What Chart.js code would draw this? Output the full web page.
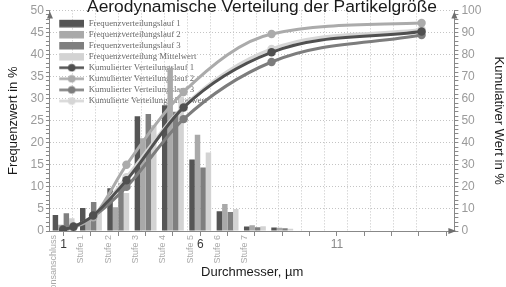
<!DOCTYPE html>
<html>
<head>
<meta charset="utf-8">
<script src="https://cdn.jsdelivr.net/npm/chart.js@4/dist/chart.umd.min.js"></script>
<style>
  html, body { margin: 0; padding: 0; background: #fff; overflow: hidden; }
  #wrap { width: 506px; height: 287px; }
</style>
</head>
<body>
<div id="wrap"><canvas id="chart"></canvas></div>
<script>
// stages (bar groups sit on the diameter axis at 1..9)
const categories = ['Induktionsanschluss', 'Stufe 1', 'Stufe 2', 'Stufe 3', 'Stufe 4', 'Stufe 5', 'Stufe 6', 'Stufe 7'];
const stagePositions = [1, 2, 3, 4, 5, 6, 7, 8, 9];

// frequency values in % (left axis)
const freqRun1 = [3.6, 5.2, 9.7, 26.0, 28.5, 16.2, 4.5, 1.0, 0.8];
const freqRun2 = [1.4, 2.2, 5.4, 21.0, 37.0, 21.8, 6.1, 1.3, 0.75];
const freqRun3 = [4.0, 6.6, 10.8, 26.5, 27.0, 14.4, 4.3, 0.85, 0.6];
const freqMean = [2.9, 4.6, 8.6, 24.0, 30.5, 17.8, 5.0, 1.05, 0.5];

// cumulative values in % (right axis) at the stage cut-off diameters
const cutoffs = [0.98, 1.36, 2.08, 3.30, 5.39, 8.61, 14.1];
const cumRun1 = [0.6, 1.9, 7.0, 23.0, 56.0, 81.0, 90.4];
const cumRun2 = [0.4, 1.6, 6.2, 30.0, 63.0, 89.3, 94.3];
const cumRun3 = [0.8, 2.1, 6.5, 20.0, 50.7, 76.6, 88.8];
const cumMean = [0.6, 1.9, 6.6, 24.4, 56.5, 82.5, 91.3];

const xTickLabels = [1, 6, 11];

const barColors = ['#555555', '#a9a9a9', '#7f7f7f', '#d3d3d3'];
const lineColors = ['#505050', '#ababab', '#7d7d7d', '#d6d6d6'];

function legendIcon(isLine, color) {
  const c = document.createElement('canvas');
  c.width = 32; c.height = 9;
  const g = c.getContext('2d');
  if (isLine) {
    g.strokeStyle = color; g.lineWidth = 2.5;
    g.beginPath(); g.moveTo(7, 4.5); g.lineTo(32, 4.5); g.stroke();
    g.fillStyle = color;
    g.beginPath(); g.arc(19.5, 4.5, 3.8, 0, Math.PI * 2); g.fill();
  } else {
    g.fillStyle = color; g.fillRect(7, 1, 25, 7.5);
  }
  return c;
}

function barSet(label, values, color) {
  return {
    type: 'bar', label, order: 1,
    data: stagePositions.map((p, i) => ({ x: p, y: values[i] })),
    backgroundColor: color, borderWidth: 0,
    categoryPercentage: 0.8, barPercentage: 1.0,
    xAxisID: 'x', yAxisID: 'y'
  };
}
function lineSet(label, values, color) {
  return {
    type: 'line', label, order: 0,
    data: cutoffs.map((d, i) => ({ x: d, y: values[i] })),
    borderColor: color, backgroundColor: color, borderWidth: 3,
    pointRadius: 4.2, pointBackgroundColor: color, pointBorderWidth: 0,
    cubicInterpolationMode: 'monotone',
    xAxisID: 'x', yAxisID: 'y2'
  };
}

const axisArrows = {
  id: 'axisArrows',
  afterDraw(chart) {
    const { ctx, chartArea: a } = chart;
    ctx.save();
    ctx.fillStyle = '#6f6f6f';
    [a.left, a.right].forEach(x => {
      ctx.beginPath();
      ctx.moveTo(x, a.top + 1); ctx.lineTo(x - 3, a.top + 8); ctx.lineTo(x + 3, a.top + 8);
      ctx.closePath(); ctx.fill();
    });
    ctx.beginPath();
    ctx.moveTo(a.right + 2, a.bottom); ctx.lineTo(a.right - 6, a.bottom - 3); ctx.lineTo(a.right - 6, a.bottom + 3);
    ctx.closePath(); ctx.fill();
    ctx.restore();
  }
};

const axisTitleFont = { family: 'Liberation Sans', size: 13 };
const tickFont = { family: 'Liberation Sans', size: 12 };

new Chart(document.getElementById('chart'), {
  type: 'bar',
  data: {
    datasets: [
      barSet('Frequenzverteilungslauf 1', freqRun1, barColors[0]),
      barSet('Frequenzverteilungslauf 2', freqRun2, barColors[1]),
      barSet('Frequenzverteilungslauf 3', freqRun3, barColors[2]),
      barSet('Frequenzverteilung Mittelwert', freqMean, barColors[3]),
      lineSet('Kumulierter Verteilungslauf 1', cumRun1, lineColors[0]),
      lineSet('Kumulierter Verteilungslauf 2', cumRun2, lineColors[1]),
      lineSet('Kumulierter Verteilungslauf 3', cumRun3, lineColors[2]),
      lineSet('Kumulierte Verteilung Mittelwert', cumMean, lineColors[3])
    ]
  },
  options: {
    responsive: true,
    maintainAspectRatio: false,
    animation: false,
    layout: { padding: { left: 18, right: 0, top: 0, bottom: 56 } },
    plugins: {
      title: {
        display: true,
        text: 'Aerodynamische Verteilung der Partikelgröße',
        color: '#1a1a1a',
        font: { family: 'Liberation Sans', size: 17.4, weight: 'normal' },
        padding: { top: -3, bottom: -7.5 }
      },
      legend: {
        position: 'chartArea',
        align: 'start',
        title: { display: true, text: ' ', font: { size: 1 }, padding: { top: 15.4, bottom: 0 } },
        labels: {
          usePointStyle: true,
          pointStyleWidth: 32,
          padding: 2.3,
          font: { family: 'Liberation Serif', size: 8.8 },
          generateLabels: chart => chart.data.datasets.map((ds, i) => ({
            text: ds.label,
            fillStyle: ds.backgroundColor,
            strokeStyle: ds.backgroundColor,
            lineWidth: 0,
            fontColor: '#6a6a6a',
            pointStyle: legendIcon(ds.type === 'line', ds.type === 'line' ? ds.borderColor : ds.backgroundColor),
            datasetIndex: i,
            hidden: false
          }))
        }
      },
      tooltip: { enabled: false }
    },
    scales: {
      x: {
        type: 'linear', position: { y: 0 }, min: 0.5, max: 15.3, offset: false,
        ticks: {
          stepSize: 1, includeBounds: false, autoSkip: false, maxRotation: 0,
          padding: 2, font: tickFont,
          color: c => c.tick && c.tick.value < 10 ? '#3a3a3a' : '#8a8a8a',
          callback: v => xTickLabels.includes(v) ? String(v) : ''
        },
        grid: { offset: false, drawOnChartArea: false, tickLength: 4, tickColor: '#888' },
        border: { color: '#888' },
        title: { display: true, text: 'Durchmesser, µm', color: '#1a1a1a', font: axisTitleFont, padding: { top: 11, bottom: 0 } }
      },
      xc: {
        type: 'linear', position: { y: 0 }, min: 0.5, max: 15.3, offset: false,
        afterBuildTicks: s => { s.ticks = categories.map((c, i) => ({ value: stagePositions[i] })); },
        ticks: {
          autoSkip: false, minRotation: 90, maxRotation: 90, labelOffset: -10, padding: 4,
          color: '#a8a8a8',
          font: { family: 'Liberation Sans Narrow, Liberation Sans', size: 9 },
          callback: (v, i) => categories[i]
        },
        grid: { offset: false, display: false, drawTicks: false },
        border: { display: false }
      },
      xg: {
        type: 'linear', position: { y: 0 }, min: 0, max: 17.66, offset: false,
        ticks: { display: false, stepSize: 1 },
        grid: { offset: false, color: '#c4c4c4', drawTicks: false },
        border: { display: false, dash: [1, 2] }
      },
      y: {
        position: 'left', min: 0, max: 50,
        ticks: {
          stepSize: 1, autoSkip: false, color: '#9a9a9a', font: tickFont, padding: 2,
          callback: v => v % 5 === 0 ? String(v) : ''
        },
        grid: {
          color: c => c.tick && c.tick.value % 5 === 0 && c.tick.value > 0 ? '#c4c4c4' : 'rgba(0,0,0,0)',
          tickColor: '#888', tickLength: 4
        },
        border: { color: '#888', dash: [1, 2] },
        title: { display: true, text: 'Frequenzwert in %', color: '#1a1a1a', font: axisTitleFont, padding: { top: -12, bottom: 7 } }
      },
      y2: {
        position: 'right', min: 0, max: 100,
        ticks: {
          stepSize: 2, autoSkip: false, color: '#9a9a9a', font: tickFont, padding: 3,
          callback: v => v % 10 === 0 ? String(v) : ''
        },
        grid: { drawOnChartArea: false, tickColor: '#888', tickLength: 4 },
        border: { color: '#888' },
        title: { display: true, text: 'Kumulativer Wert in %', color: '#1a1a1a', font: axisTitleFont, padding: { top: 0, bottom: 6 } }
      }
    }
  },
  plugins: [axisArrows]
});
</script>
</body>
</html>
